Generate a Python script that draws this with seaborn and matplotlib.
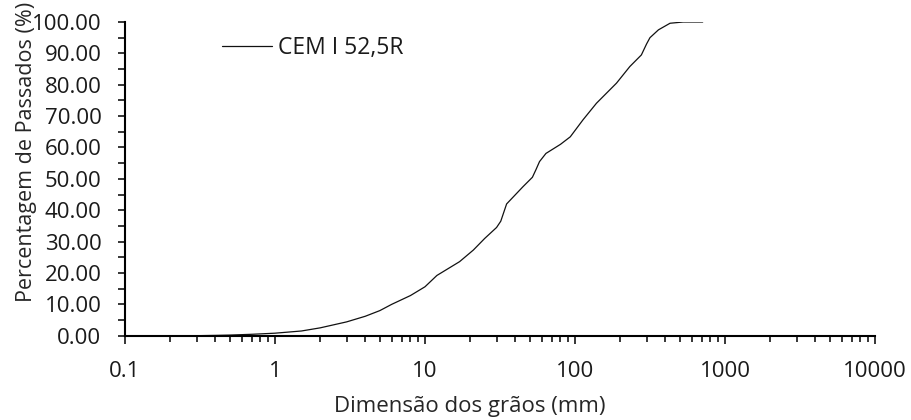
import matplotlib
matplotlib.use("Agg")
import matplotlib.pyplot as plt
import matplotlib.ticker as mticker
import numpy as np
import pandas as pd
import seaborn as sns

# Particle size distribution of the cement (cumulative % passing)
grain_size_mm = [0.3, 0.4, 0.5, 0.7, 1.0, 1.5, 2.0, 3.0, 4.0, 5.0, 6.0, 8.0,
                 10.0, 12.0, 17.0, 21.0, 25.0, 30.0, 32.0, 35.0, 45.0, 52.0,
                 55.0, 58.0, 64.0, 80.0, 93.0, 113.0, 139.0, 189.0, 232.0,
                 277.0, 300.0, 316.0, 360.0, 430.0, 526.0, 710.0]
percent_passing = [0.0, 0.1, 0.2, 0.45, 0.8, 1.5, 2.5, 4.4, 6.2, 8.0, 10.0, 12.8,
                   15.6, 19.2, 23.6, 27.3, 31.0, 34.5, 36.5, 42.0, 47.5, 50.5,
                   53.0, 55.5, 58.1, 61.0, 63.4, 68.8, 74.1, 80.5, 85.8,
                   89.5, 93.0, 95.0, 97.5, 99.6, 100.0, 100.0]
series_name = "CEM I 52,5R"

x_ticks = [0.1, 1, 10, 100, 1000, 10000]
x_tick_labels = ["0.1", "1", "10", "100", "1000", "10000"]

df = pd.DataFrame({"size": grain_size_mm, "passing": percent_passing,
                   "series": series_name})

sns.set_style("white")
plt.rcParams["font.family"] = ["Open Sans", "DejaVu Sans"]
plt.rcParams["text.color"] = "#1a1a1a"

fig = plt.figure(figsize=(9.11, 4.20), dpi=100)
ax = fig.add_axes([125 / 911, 1 - 335.7 / 420, 750 / 911, 313.7 / 420])

sns.lineplot(data=df, x="size", y="passing", hue="series",
             palette=["#111111"], linewidth=0.9, ax=ax, sort=False)

ax.set_xscale("log")
ax.set_xlim(0.1, 10000)
ax.set_ylim(0, 100)

ax.set_xticks(x_ticks)
ax.set_xticklabels(x_tick_labels)
ax.xaxis.set_minor_locator(mticker.LogLocator(base=10, subs=np.arange(2, 10)))
ax.xaxis.set_minor_formatter(mticker.NullFormatter())

ax.yaxis.set_major_locator(mticker.MultipleLocator(10))
ax.yaxis.set_minor_locator(mticker.MultipleLocator(5))
ax.yaxis.set_major_formatter(mticker.FormatStrFormatter("%.2f"))

for side in ("top", "right"):
    ax.spines[side].set_visible(False)
for side in ("left", "bottom"):
    ax.spines[side].set_linewidth(1.5)
    ax.spines[side].set_color("black")

ax.tick_params(axis="x", which="major", direction="out", length=6, width=1.1,
               pad=12.5, labelsize=16, colors="black", labelcolor="#1a1a1a",
               bottom=True)
ax.tick_params(axis="x", which="minor", direction="out", length=4.5, width=1.1,
               colors="black", bottom=True)
ax.tick_params(axis="y", which="both", direction="out", length=5, width=1.1,
               pad=12, labelsize=16, colors="black", labelcolor="#1a1a1a",
               left=True)

ax.set_xlabel("Dimensão dos grãos (mm)", fontsize=16)
ax.set_ylabel("Percentagem de Passados (%)", fontsize=15.5)
ax.xaxis.set_label_coords(0.459, -0.227)
ax.xaxis.label.set_verticalalignment("center")
ax.yaxis.set_label_coords(-0.132, 0.587)
ax.yaxis.label.set_verticalalignment("center")

leg = ax.legend(loc="center left", bbox_to_anchor=(222 / 911, 1 - 48 / 420),
                bbox_transform=fig.transFigure, frameon=False, fontsize=16.5,
                handlelength=2.2, handletextpad=0.25, borderpad=0,
                borderaxespad=0)
for line in leg.get_lines():
    line.set_linewidth(0.9)

fig.savefig("out.png", dpi=100)
